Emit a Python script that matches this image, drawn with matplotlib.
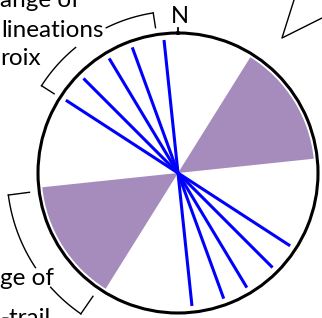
import numpy as np
import matplotlib
matplotlib.use("Agg")
import matplotlib.pyplot as plt

# azimuths in degrees clockwise from north
LINEATION_AZ = [354, 340, 329, 315, 303]  # plotted axially (az and az+180)
WEDGE_FROM = 32
WEDGE_TO = 84
LINE_R = 0.955
WEDGE_R = 0.975

# brackets: (start az, end az, gap start, gap end, radius, tick inner radius)
UPPER_BRACKET = (302.6, 351.2, 320.8, 333.7, 1.157, 1.05)
LOWER_BRACKET = (214.6, 262.6, 228.1, 236.4, 1.222, 1.07)

# text fragments (pixel x, baseline y)
LABELS = [("ange of", 0, 7), ("lineations", 1, 37), ("roix", 0, 65),
          ("ge of", 0, 285), ("-trail", 0, 325)]

# callout pointer in the upper right (pixels)
CALLOUT_X = [294, 282, 322]
CALLOUT_Y = [0, 38, 18]

PURPLE = "#A58CBC"
W, H = 322, 318
CX, CY, R = 178, 173, 140

plt.rcParams['font.family'] = ['Lato', 'DejaVu Sans']

fig = plt.figure(figsize=(W / 100, H / 100), dpi=100)
ax = fig.add_axes([(CX - R) / W, (H - CY - R) / H, 2 * R / W, 2 * R / H], projection="polar")
ax.set_theta_zero_location("N")
ax.set_theta_direction(-1)
ax.set_ylim(0, 1)
ax.set_xticks([])
ax.set_yticks([])
ax.grid(False)
ax.spines["polar"].set_linewidth(2.2)

# purple wedges (axial, so both directions)
center = np.radians((WEDGE_FROM + WEDGE_TO) / 2)
width = np.radians(WEDGE_TO - WEDGE_FROM)
ax.bar([center, center + np.pi], [WEDGE_R, WEDGE_R], width=width, bottom=0,
       color=PURPLE, edgecolor="none", zorder=1)

# lineations through the centre
for az in LINEATION_AZ:
    t = np.radians(az)
    ax.plot([t, t, t + np.pi], [LINE_R, 0, LINE_R], color="#0000FF", lw=2.2,
            solid_capstyle="butt", zorder=3)

# north tick
ax.plot([0, 0], [1.0, 1.035], color="black", lw=1.3, clip_on=False)


def bracket(a0, a1, g0, g1, r, r_in):
    for s, e in [(a0, g0), (g1, a1)]:
        th = np.radians(np.linspace(s, e, 60))
        ax.plot(th, np.full_like(th, r), color="black", lw=1.0, clip_on=False)
    for a in (a0, a1):
        ax.plot([np.radians(a)] * 2, [r, r_in], color="black", lw=1.0, clip_on=False)


bracket(*UPPER_BRACKET)
bracket(*LOWER_BRACKET)

# overlay in pixel coordinates for text and callout
ov = fig.add_axes([0, 0, 1, 1], facecolor="none")
ov.set_xlim(0, W)
ov.set_ylim(H, 0)
ov.axis("off")
for txt, x, y in LABELS:
    ov.text(x, y, txt, fontsize=17.5, ha="left", va="baseline", color="black")
ov.text(CX + 2, 23, "N", fontsize=17, ha="center", va="baseline", color="black")
ov.plot(CALLOUT_X, CALLOUT_Y, color="black", lw=1.0)

fig.savefig("out.png", dpi=100)
